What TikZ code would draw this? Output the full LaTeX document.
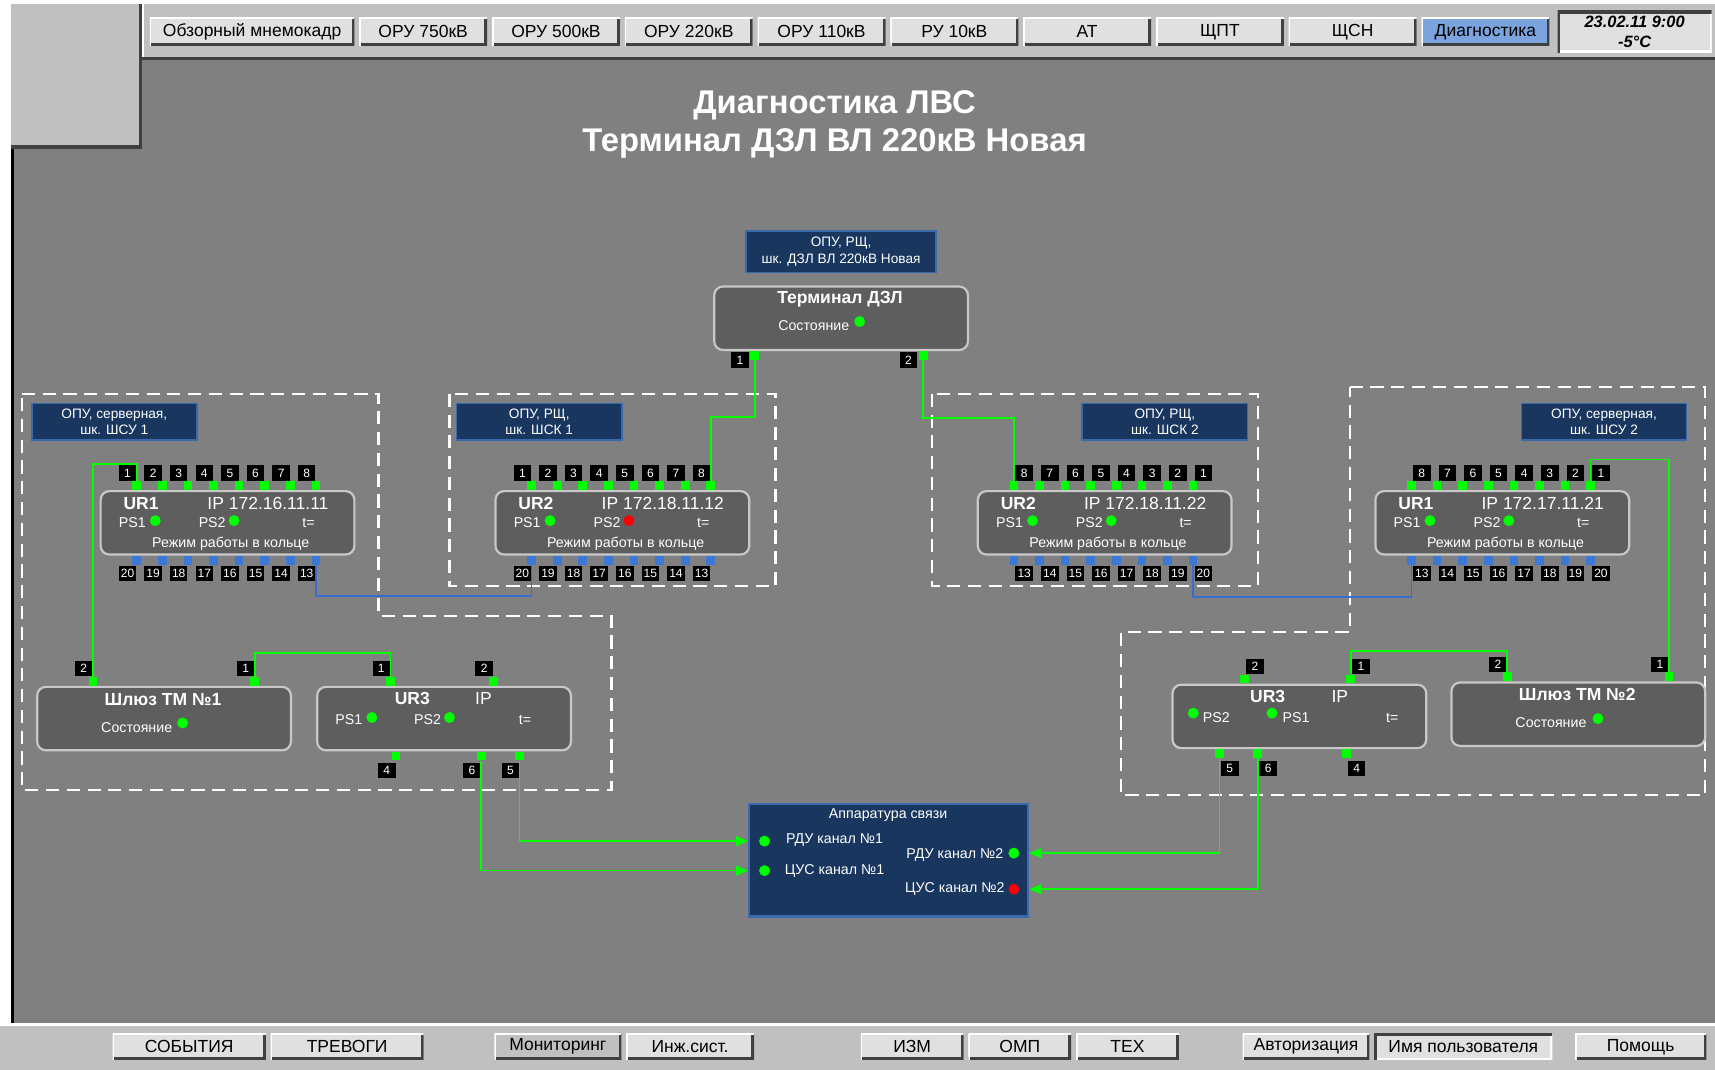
\documentclass[tikz,border=0pt]{standalone}
\usepackage{fontspec}
\setmainfont{Liberation Sans}
\usetikzlibrary{arrows.meta,positioning,calc}

\definecolor{panel}{HTML}{C0C0C0}
\definecolor{screen}{HTML}{808080}
\definecolor{btnface}{HTML}{E0E0E0}
\definecolor{btndark}{HTML}{404040}
\definecolor{btnblue}{HTML}{7BA3DE}
\definecolor{devfill}{HTML}{5E5E5E}
\definecolor{devedge}{HTML}{C8C8C8}
\definecolor{navy}{HTML}{19365F}
\definecolor{navyedge}{HTML}{3A69B0}
\definecolor{ledgreen}{HTML}{00FF00}
\definecolor{ledred}{HTML}{FF0000}
\definecolor{portblue}{HTML}{3C78D8}
\definecolor{ringblue}{HTML}{3A6CD0}

\tikzset{%
  >={Triangle[length=11pt,width=9pt]},
  % fonts (1pt = 1 screen pixel)
       f11/.style = {font=\fontsize{11}{13}\selectfont},
       f13/.style = {font=\fontsize{13}{15}\selectfont},
       f16/.style = {font=\fontsize{16}{19}\selectfont},
      f16b/.style = {font=\bfseries\fontsize{16}{19}\selectfont},
  % window buttons
    raised/.style = {path picture={
                       \draw[btndark, line width=5pt] (path picture bounding box.south west)
                         -- (path picture bounding box.south east) -- (path picture bounding box.north east);
                       \draw[white, line width=3pt] (path picture bounding box.south west)
                         -- (path picture bounding box.north west) -- (path picture bounding box.north east);}},
    sunken/.style = {path picture={
                       \draw[white, line width=4pt] (path picture bounding box.south west)
                         -- (path picture bounding box.south east) -- (path picture bounding box.north east);
                       \draw[btndark, line width=5pt] (path picture bounding box.south west)
                         -- (path picture bounding box.north west) -- (path picture bounding box.north east);}},
       btn/.style = {rectangle, fill=btnface, raised, inner sep=0pt,
                     minimum width=117pt, minimum height=26pt, f16},
      bbtn/.style = {btn, minimum height=24pt},
  % devices and places
    device/.style = {rectangle, rounded corners=8pt, draw=devedge, line width=2pt,
                     fill=devfill, minimum width=232pt, minimum height=58pt},
      zone/.style = {draw=white, line width=2pt, dash pattern=on 12pt off 7pt},
      site/.style = {rectangle, fill=navy, draw=navyedge, line width=1.5pt, text=white,
                     align=center, inner sep=0pt, minimum width=151pt, minimum height=33pt,
                     font=\fontsize{12.5}{15}\selectfont},
     gport/.style = {rectangle, fill=ledgreen, inner sep=0pt, minimum size=8pt},
     bport/.style = {gport, fill=portblue},
    plabel/.style = {rectangle, fill=black, text=white, inner sep=0pt,
                     minimum width=16pt, minimum height=14pt, f11},
       led/.style = {circle, fill=ledgreen, inner sep=0pt, minimum size=10pt},
       txt/.style = {text=white, inner sep=0pt, f13},
     gwire/.style = {draw=ledgreen, line width=1.5pt},
     bwire/.style = {draw=ringblue, line width=1.5pt}
}

\begin{document}
\begin{tikzpicture}[x=1pt, y=-1pt, node distance=4pt]
  \useasboundingbox (0,0) rectangle (1568,978);
  % screen frame
  \fill[white] (0,0) rectangle (1568,978);
  \fill[panel] (10,4) rectangle (1568,52);
  \fill[screen] (12,52) rectangle (1568,935);
  \fill[btndark] (130,52) rectangle (1568,55);
  \fill[panel] (10,4) rectangle (127,133);
  \fill[btndark] (127,4) rectangle (130,136);
  \fill[btndark] (10,133) rectangle (130,136);
  \fill[white] (130,4) rectangle (132,52);
  \fill[black] (10,136) rectangle (13,935);
  \fill[white] (0,935) rectangle (1568,938);
  \fill[panel] (0,938) rectangle (1568,978);

  % top menu
  \node (obzor)  [btn, minimum width=187pt] at (230.5,29) {Обзорный мнемокадр};
  \node (oru750) [btn, right=of obzor]  {ОРУ 750кВ};
  \node (oru500) [btn, right=of oru750] {ОРУ 500кВ};
  \node (oru220) [btn, right=of oru500] {ОРУ 220кВ};
  \node (oru110) [btn, right=of oru220] {ОРУ 110кВ};
  \node (ru10)   [btn, right=of oru110] {РУ 10кВ};
  \node (atbtn)  [btn, right=of ru10]   {АТ};
  \node (shpt)   [btn, right=of atbtn]  {ЩПТ};
  \node (shsn)   [btn, right=of shpt]   {ЩСН};
  \node (diag)   [btn, fill=btnblue, right=of shsn] {Диагностика};
  \node (clock)  [rectangle, fill=btnface, sunken, align=center, inner sep=0pt,
                  minimum width=141pt, minimum height=38pt,
                  font=\bfseries\itshape\fontsize{15}{18}\selectfont] at (1494.5,29) {23.02.11 9:00\\-5°C};

  % bottom menu
  \node (events)  [bbtn, minimum width=140pt] at (173,957) {СОБЫТИЯ};
  \node (alarms)  [bbtn, minimum width=140pt, right=of events] {ТРЕВОГИ};
  \node (monitor) [bbtn, fill=panel, minimum width=116pt] at (510,957) {Мониторинг};
  \node (eng)     [bbtn, right=of monitor] {Инж.сист.};
  \node (izm)     [bbtn, minimum width=94pt] at (834,957) {ИЗМ};
  \node (omp)     [bbtn, minimum width=94pt, right=of izm] {ОМП};
  \node (tex)     [bbtn, minimum width=94pt, right=of omp] {ТЕХ};
  \node (auth)    [bbtn, minimum width=116pt] at (1194,957) {Авторизация};
  \node (user)    [bbtn, sunken, minimum width=163pt, right=of auth] {Имя пользователя};
  \node (help)    [bbtn, minimum width=120pt] at (1500,957) {Помощь};

  % title
  \node (title) [text=white, align=center, font=\bfseries\fontsize{30}{35}\selectfont]
    at (763,114) {Диагностика ЛВС\\Терминал ДЗЛ ВЛ 220кВ Новая};

  % cabinets
  \draw[zone] (20,360) -- (346,360) -- (346,563) -- (559,563) -- (559,722) -- (20,722) -- cycle;
  \draw[zone] (411,360) rectangle (709,536);
  \draw[zone] (852,360) rectangle (1150,536);
  \draw[zone] (1234,354) -- (1559,354) -- (1559,727) -- (1025,727) -- (1025,578) -- (1234,578) -- cycle;

  \node (site-ter) [site, minimum width=174pt, minimum height=38pt,
                    font=\fontsize{12.5}{16}\selectfont] at (769,230) {ОПУ, РЩ,\\шк. ДЗЛ ВЛ 220кВ Новая};
  \node (site-a) [site] at (104.5,385.5) {ОПУ, серверная,\\шк. ШСУ 1};
  \node (site-b) [site] at (493,385.5)   {ОПУ, РЩ,\\шк. ШСК 1};
  \node (site-c) [site] at (1065,385.5)  {ОПУ, РЩ,\\шк. ШСК 2};
  \node (site-d) [site] at (1466.5,385.5) {ОПУ, серверная,\\шк. ШСУ 2};

  % devices
  \node (ter)  [device] at (769,291) {};
  \node (urA)  [device] at (208,478) {};
  \node (urB)  [device] at (569,478) {};
  \node (urC)  [device] at (1010,478) {};
  \node (urD)  [device] at (1373.5,478) {};
  \node (gw1)  [device] at (150,657) {};
  \node (ur3a) [device] at (406,657) {};
  \node (ur3b) [device] at (1188,655) {};
  \node (gw2)  [device] at (1443,653) {};
  \node (comm) [rectangle, fill=navy, draw=navyedge, line width=2pt,
                minimum width=255pt, minimum height=103pt] at (812.5,786.5) {};

  % ring switches
  \foreach \r/\n/\ip/\ps in {urA/UR1/172.16.11.11/ledgreen, urB/UR2/172.18.11.12/ledred,
                              urC/UR2/172.18.11.22/ledgreen, urD/UR1/172.17.11.21/ledgreen} {
    \node (\r-name) [txt, f16b] at ($(\r.north west)+(38,12)$)  {\n};
    \node (\r-ip)   [txt, f16]  at ($(\r.north west)+(154,12)$) {IP \ip};
    \node (\r-ps1)  [txt]       at ($(\r.north west)+(30,30)$)  {PS1};
    \node (\r-led1) [led]       at ($(\r.north west)+(51,28)$)  {};
    \node (\r-ps2)  [txt]       at ($(\r.north west)+(103,30)$) {PS2};
    \node (\r-led2) [led, fill=\ps] at ($(\r.north west)+(123,28)$) {};
    \node (\r-temp) [txt]       at ($(\r.north west)+(191,30)$) {t=};
    \node (\r-mode) [txt]       at ($(\r.north west)+(120,49)$) {Режим работы в кольце};
  }
  \foreach \r in {urA,urB}
    \foreach \i in {1,...,8} {
      \pgfmathtruncatemacro\botnum{21-\i}
      \node (\r-p\i) [gport, anchor=south] at ($(\r.north west)+({34+23.4*(\i-1)},0)$) {};
      \node (\r-p\botnum) [bport, anchor=north] at ($(\r.south west)+({34+23.4*(\i-1)},0)$) {};
      \node (\r-l\i) [plabel, above left=0pt and -4pt of \r-p\i] {\i};
      \node (\r-l\botnum) [plabel, below left=1pt and -4pt of \r-p\botnum] {\botnum};
    }
  \foreach \r in {urC,urD}
    \foreach \i in {1,...,8} {
      \pgfmathtruncatemacro\topnum{9-\i}
      \pgfmathtruncatemacro\botnum{12+\i}
      \node (\r-p\topnum) [gport, anchor=south] at ($(\r.north west)+({34+23.4*(\i-1)},0)$) {};
      \node (\r-p\botnum) [bport, anchor=north] at ($(\r.south west)+({34+23.4*(\i-1)},0)$) {};
      \node (\r-l\topnum) [plabel, above right=0pt and -3pt of \r-p\topnum] {\topnum};
      \node (\r-l\botnum) [plabel, below right=1pt and -3pt of \r-p\botnum] {\botnum};
    }

  % terminal
  \node (ter-name)  [txt, f16b] at ($(ter.north west)+(116,13)$) {Терминал ДЗЛ};
  \node (ter-state) [txt]       at ($(ter.north west)+(92,37)$)  {Состояние};
  \node (ter-led)   [led]       at ($(ter.north west)+(134,33)$) {};
  \node (ter-p1) [gport, anchor=north] at ($(ter.south west)+(38,0)$)  {};
  \node (ter-p2) [gport, anchor=north] at ($(ter.south west)+(192,0)$) {};
  \node (ter-l1) [plabel, below left=1pt and 1pt of ter-p1.north west] {1};
  \node (ter-l2) [plabel, below left=1pt and 1pt of ter-p2.north west] {2};

  % gateway 1
  \node (gw1-name)  [txt, f16b] at ($(gw1.north west)+(116,13)$) {Шлюз ТМ №1};
  \node (gw1-state) [txt]       at ($(gw1.north west)+(92,38)$)  {Состояние};
  \node (gw1-led)   [led]       at ($(gw1.north west)+(134,34)$) {};
  \node (gw1-p2) [gport, anchor=south] at ($(gw1.north west)+(52,0)$)  {};
  \node (gw1-p1) [gport, anchor=south] at ($(gw1.north west)+(200,0)$) {};
  \node (gw1-l2) [plabel, above left=0pt and -4pt of gw1-p2] {2};
  \node (gw1-l1) [plabel, above left=0pt and -4pt of gw1-p1] {1};

  % UR3 left
  \node (ur3a-name) [txt, f16b] at ($(ur3a.north west)+(88,12)$)  {UR3};
  \node (ur3a-ip)   [txt, f16]  at ($(ur3a.north west)+(153,12)$) {IP};
  \node (ur3a-ps1)  [txt]       at ($(ur3a.north west)+(30,31)$)  {PS1};
  \node (ur3a-led1) [led]       at ($(ur3a.north west)+(51,29)$)  {};
  \node (ur3a-ps2)  [txt]       at ($(ur3a.north west)+(102,31)$) {PS2};
  \node (ur3a-led2) [led]       at ($(ur3a.north west)+(122,29)$) {};
  \node (ur3a-temp) [txt]       at ($(ur3a.north west)+(191,31)$) {t=};
  \node (ur3a-p1) [gport, anchor=south] at ($(ur3a.north west)+(68,0)$)  {};
  \node (ur3a-p2) [gport, anchor=south] at ($(ur3a.north west)+(162,0)$) {};
  \node (ur3a-p4) [gport, anchor=north] at ($(ur3a.south west)+(73,0)$)  {};
  \node (ur3a-p6) [gport, anchor=north] at ($(ur3a.south west)+(151,0)$) {};
  \node (ur3a-p5) [gport, anchor=north] at ($(ur3a.south west)+(186,0)$) {};
  \node (ur3a-l1) [plabel, above left=0pt and -4pt of ur3a-p1] {1};
  \node (ur3a-l2) [plabel, above left=0pt and -4pt of ur3a-p2] {2};
  \node (ur3a-l4) [plabel, below left=2pt and -4pt of ur3a-p4] {4};
  \node (ur3a-l6) [plabel, below left=2pt and -4pt of ur3a-p6] {6};
  \node (ur3a-l5) [plabel, below left=2pt and -4pt of ur3a-p5] {5};

  % UR3 right
  \node (ur3b-name) [txt, f16b] at ($(ur3b.north west)+(88,12)$)  {UR3};
  \node (ur3b-ip)   [txt, f16]  at ($(ur3b.north west)+(154,12)$) {IP};
  \node (ur3b-led2) [led]       at ($(ur3b.north west)+(20,27)$)  {};
  \node (ur3b-ps2)  [txt]       at ($(ur3b.north west)+(41,31)$)  {PS2};
  \node (ur3b-led1) [led]       at ($(ur3b.north west)+(92,27)$)  {};
  \node (ur3b-ps1)  [txt]       at ($(ur3b.north west)+(114,31)$) {PS1};
  \node (ur3b-temp) [txt]       at ($(ur3b.north west)+(202,31)$) {t=};
  \node (ur3b-p2) [gport, anchor=south] at ($(ur3b.north west)+(67,0)$)  {};
  \node (ur3b-p1) [gport, anchor=south] at ($(ur3b.north west)+(164,0)$) {};
  \node (ur3b-p5) [gport, anchor=north] at ($(ur3b.south west)+(44,0)$)  {};
  \node (ur3b-p6) [gport, anchor=north] at ($(ur3b.south west)+(79,0)$)  {};
  \node (ur3b-p4) [gport, anchor=north] at ($(ur3b.south west)+(160,0)$) {};
  \node (ur3b-l2) [plabel, above right=0pt and -3pt of ur3b-p2] {2};
  \node (ur3b-l1) [plabel, above right=0pt and -3pt of ur3b-p1] {1};
  \node (ur3b-l5) [plabel, below right=2pt and -3pt of ur3b-p5] {5};
  \node (ur3b-l6) [plabel, below right=2pt and -3pt of ur3b-p6] {6};
  \node (ur3b-l4) [plabel, below right=2pt and -3pt of ur3b-p4] {4};

  % gateway 2
  \node (gw2-name)  [txt, f16b] at ($(gw2.north west)+(116,12)$) {Шлюз ТМ №2};
  \node (gw2-state) [txt]       at ($(gw2.north west)+(92,38)$)  {Состояние};
  \node (gw2-led)   [led]       at ($(gw2.north west)+(135,34)$) {};
  \node (gw2-p2) [gport, anchor=south] at ($(gw2.north west)+(52,0)$)  {};
  \node (gw2-p1) [gport, anchor=south] at ($(gw2.north west)+(200,0)$) {};
  \node (gw2-l2) [plabel, above left=0pt and -4pt of gw2-p2] {2};
  \node (gw2-l1) [plabel, above left=0pt and -4pt of gw2-p1] {1};

  % communication equipment
  \node (comm-title) [txt]       at (812,745) {Аппаратура связи};
  \node (comm-led1)  [led]       at (699,769) {};
  \node (comm-rdu1)  [txt]       at (763,768) {РДУ канал №1};
  \node (comm-led2)  [led]       at (699,796) {};
  \node (comm-cus1)  [txt]       at (763,796) {ЦУС канал №1};
  \node (comm-rdu2)  [txt]       at (873,782) {РДУ канал №2};
  \node (comm-led3)  [led]       at (927,780) {};
  \node (comm-cus2)  [txt]       at (873,813) {ЦУС канал №2};
  \node (comm-led4)  [led, fill=ledred] at (927,813) {};

  % links
  \draw[gwire] (ter-p1.south) -- (ter-p1 |- 0,381) -| (urB-p8.north);
  \draw[gwire] (ter-p2.south) -- (ter-p2 |- 0,382) -| (urC-p8.north);
  \draw[gwire] (urA-p1.north) -- (urA-p1 |- 0,424) -| (gw1-p2.north);
  \draw[gwire] (urD-p1.north) -- (urD-p1 |- 0,420) -| (gw2-p1.north);
  \draw[bwire] (urA-p13.south) -- (urA-p13 |- 0,545) -| (urB-p20.south);
  \draw[bwire] (urC-p20.south) -- (urC-p20 |- 0,546) -| (urD-p13.south);
  \draw[gwire] (gw1-p1.north) -- (gw1-p1 |- 0,597) -| (ur3a-p1.north);
  \draw[gwire] (ur3b-p1.north) -- (ur3b-p1 |- 0,595) -| (gw2-p2.north);
  \draw[gwire, ->] (ur3a-p5.south) |- (comm.west |- comm-led1);
  \draw[gwire, ->] (ur3a-p6.south) |- (comm.west |- comm-led2);
  \draw[gwire, ->] (ur3b-p5.south) |- (comm.east |- comm-led3);
  \draw[gwire, ->] (ur3b-p6.south) |- (comm.east |- comm-led4);
\end{tikzpicture}
\end{document}
